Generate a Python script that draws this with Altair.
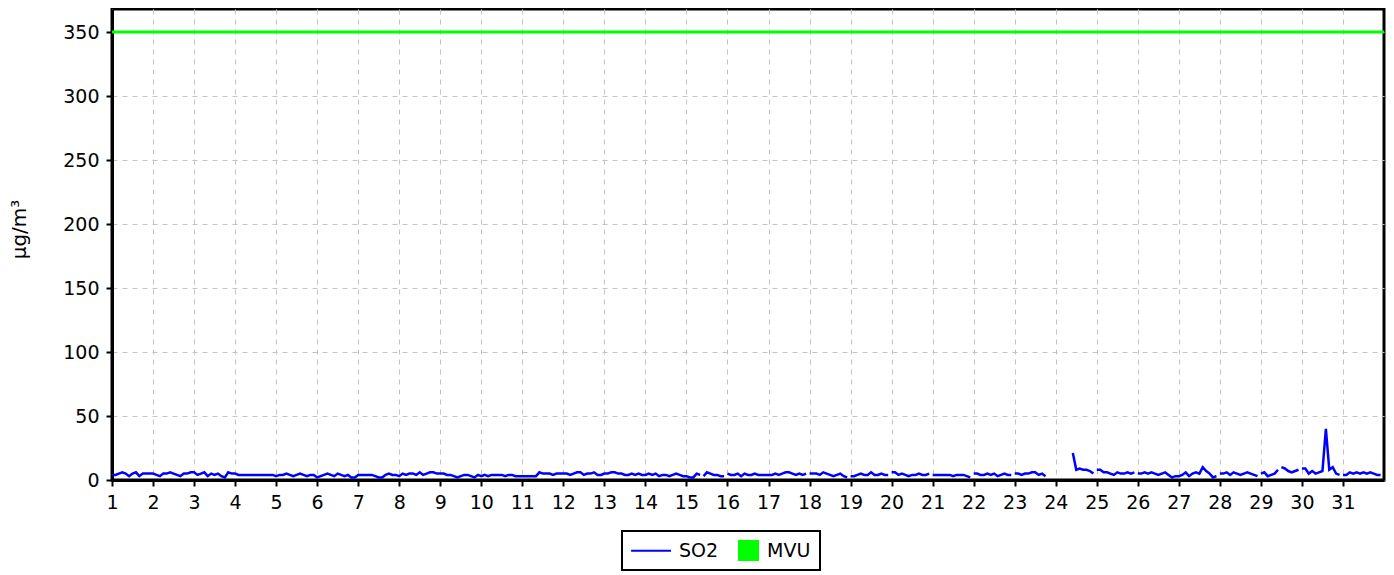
import altair as alt
import pandas as pd

# ---- data -----------------------------------------------------------
day_ticks = list(range(1, 32))
y_ticks = [0, 50, 100, 150, 200, 250, 300, 350]
series_names = ["SO2", "MVU"]
series_colors = ["#0000ff", "#00ff00"]
mvu_limit = 350
samples_per_day = 12  # one reading every 2 hours

N = None  # missing reading
so2_by_day = [
    [4, 4, 5, 6, 5, 3, 5, 6, 3, 5, 5, 5],        # 1
    [5, 4, 3, 5, 5, 6, 5, 4, 3, 5, 5, 6],        # 2
    [6, 4, 5, 6, 3, 5, 4, 5, 3, 2, 6, 5],        # 3
    [5, 4, 4, 4, 4, 4, 4, 4, 4, 4, 4, 4],        # 4
    [3, 4, 4, 5, 4, 3, 4, 5, 4, 3, 4, 4],        # 5
    [2, 3, 4, 5, 4, 3, 5, 4, 3, 4, 2, 2],        # 6
    [4, 4, 4, 4, 4, 3, 2, 2, 4, 5, 4, 4],        # 7
    [3, 5, 4, 5, 5, 4, 6, 4, 5, 6, 6, 5],        # 8
    [5, 5, 4, 4, 3, 2, 3, 4, 4, 3, 2, 4],        # 9
    [3, 4, 3, 4, 4, 4, 4, 3, 4, 4, 3, 3],        # 10
    [3, 3, 3, 3, 3, 6, 5, 5, 5, 4, 5, 5],        # 11
    [5, 5, 4, 5, 6, 6, 4, 5, 5, 6, 4, 4],        # 12
    [5, 5, 6, 6, 5, 5, 4, 4, 5, 4, 5, 4],        # 13
    [4, 5, 4, 5, 3, 4, 4, 3, 4, 5, 4, 3],        # 14
    [3, 2, 2, 5, 4, 3, 6, 5, 4, 4, 3, 3],        # 15
    [5, 4, 4, 5, 3, 5, 4, 4, 5, 4, 4, 4],        # 16
    [4, 4, 5, 4, 5, 6, 6, 5, 4, 5, 4, 5],        # 17
    [5, 5, 5, 4, 6, 5, 4, 3, 4, 5, 3, 2],        # 18
    [3, 3, 4, 5, 4, 4, 6, 4, 4, 5, 4, 4],        # 19
    [6, 6, 4, 5, 4, 3, 4, 4, 5, 4, 4, 5],        # 20
    [4, 4, 4, 4, 4, 4, 3, 4, 4, 4, 3, 2],        # 21
    [5, 5, 4, 4, 5, 4, 5, 3, 4, 5, 4, 4],        # 22
    [5, 5, 4, 5, 5, 6, 6, 4, 5, 3, N, N],        # 23
    [N, N, N, N, N, 21, 8, 9, 8, 8, 7, 5],       # 24
    [8, 8, 6, 6, 5, 4, 6, 5, 5, 6, 5, 6],        # 25
    [5, 5, 6, 5, 6, 5, 4, 5, 6, 4, 2, 3],        # 26
    [3, 4, 6, 3, 5, 6, 5, 10, 7, 5, 2, 3],       # 27
    [5, 5, 6, 4, 6, 5, 4, 5, 6, 5, 4, 3],        # 28
    [5, 6, 3, 4, 5, 8, 10, 9, 7, 6, 7, 8],       # 29
    [9, 9, 5, 7, 5, 6, 7, 40, 8, 10, 5, 4],      # 30
    [4, 4, 6, 5, 6, 5, 6, 5, 6, 5, 4, 4],        # 31
]
# (day, slot) where the recorder restarted after a short outage
breaks = [(15, 5), (16, 0), (18, 0), (19, 0), (20, 0), (21, 0), (22, 0),
          (23, 0), (25, 0), (26, 0), (28, 0), (29, 0), (29, 6), (30, 0), (31, 0)]

rows = []
segment = 0
prev_missing = False
for d, day_vals in enumerate(so2_by_day, start=1):
    for s, v in enumerate(day_vals):
        if v is None:
            prev_missing = True
            continue
        if prev_missing or (d, s) in breaks:
            segment += 1
        prev_missing = False
        rows.append({"t": d + s / samples_per_day, "so2": v, "seg": segment})
line_df = pd.DataFrame(rows)
limit_df = pd.DataFrame({"limit": [mvu_limit]})
legend_df = pd.DataFrame({"series": series_names})

FONT = "DejaVu Sans"
so2_symbol = "M-2.8,-0.1L1,-0.1L1,0.1L-2.8,0.1Z"

x_enc = alt.X(
    "t:Q",
    scale=alt.Scale(domain=[1, 32], nice=False, zero=False),
    axis=alt.Axis(values=day_ticks, format="d", title=None, labelFlush=False,
                  labelOverlap=False),
)
y_enc = alt.Y(
    "so2:Q",
    scale=alt.Scale(domain=[0, 368], nice=False),
    axis=alt.Axis(values=y_ticks, title="µg/m³", labelFlush=False,
                  labelOverlap=False, titleAngle=270, titleX=-93, titleY=220,
                  titleAlign="center", titleBaseline="middle"),
)

line = alt.Chart(line_df).mark_line(
    color=series_colors[0], strokeWidth=2.5
).encode(x=x_enc, y=y_enc, detail="seg:N")

rule = alt.Chart(limit_df).mark_rule(
    color=series_colors[1], strokeWidth=3
).encode(y=alt.Y("limit:Q"))

legend_props = dict(
    title=None, orient="none", legendX=510, legendY=522, direction="horizontal",
    strokeColor="black", fillColor="white", padding=9, symbolSize=441,
    symbolOpacity=1, symbolStrokeWidth=0, symbolOffset=19, labelOffset=8,
    columnPadding=0, labelFontSize=19, labelFont=FONT, labelColor="black",
)

legend_layer = alt.Chart(legend_df).mark_point(filled=True, opacity=0).encode(
    color=alt.Color("series:N",
                    scale=alt.Scale(domain=series_names, range=series_colors),
                    legend=alt.Legend(**legend_props)),
    shape=alt.Shape("series:N",
                    scale=alt.Scale(domain=series_names, range=[so2_symbol, "square"]),
                    legend=alt.Legend(**legend_props)),
)

chart = alt.layer(line, rule, legend_layer).properties(
    width=1272,
    height=471,
    padding={"left": 104, "top": 1, "right": 2, "bottom": 95},
    autosize=alt.AutoSizeParams(type="none"),
    background="white",
).configure_view(
    stroke="black", strokeWidth=3
).configure_axis(
    labelFont=FONT, labelFontSize=19, labelColor="black", labelPadding=7,
    titleFont=FONT, titleFontSize=20, titleFontWeight="normal", titleColor="black",
    domainColor="black", domainWidth=3, tickColor="black", tickWidth=2, tickSize=6,
    grid=True, gridColor="#c4c4c4", gridDash=[5, 5], gridWidth=1,
).configure_legend(
    strokeWidth=2
)

chart.save("out.html", embed_options={"renderer": "svg", "actions": False})
